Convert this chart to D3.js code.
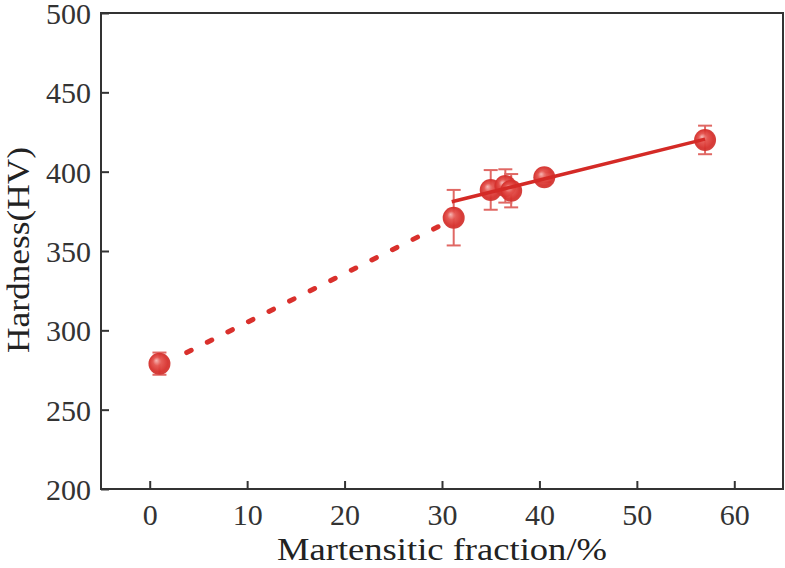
<!DOCTYPE html>
<html>
<head>
    <script src="https://cdn.jsdelivr.net/npm/d3@7"></script>
</head>

<style>
    body { margin: 0; background: white; }
    .axis path, .axis line { stroke: #333; stroke-width: 2; }
    .axis text {
        fill: #333;
        font-family: "Liberation Serif", "Times New Roman", serif;
        font-size: 30px;
    }
    .label {
        fill: #222;
        font-family: "Liberation Serif", "Times New Roman", serif;
        font-size: 32px;
    }
</style>

<body>
<div id="chart"></div>

<script>

    // measured points: martensite fraction (%), hardness (HV), error (HV)
    var fraction = [1, 31.2, 35, 36.5, 37.1, 40.5, 57];
    var hardness = [279, 371, 388.5, 391, 388, 396.5, 420];
    var errors   = [7, 17.5, 12.5, 10.5, 10.5, 3, 9];

    // fitted lines
    var solidFitX = [31, 57];
    var solidFitY = [381, 420.5];
    var dottedFitX = [3.8, 30.5];
    var dottedFitY = [286, 368];

    var xTicks = [0, 10, 20, 30, 40, 50, 60];
    var yTicks = [200, 250, 300, 350, 400, 450, 500];

    var totalWidth = 785, totalHeight = 568;
    var padding = { top: 13, right: 2, bottom: 79, left: 101 };
    var width = totalWidth - padding.left - padding.right;
    var height = totalHeight - padding.top - padding.bottom;

    var xScale = d3.scaleLinear()
        .domain([-5, 65])
        .range([0, width]);

    var yScale = d3.scaleLinear()
        .domain([200, 500])
        .range([height, 0]);

    var svg = d3.select('#chart').append('svg')
        .attr('width', totalWidth)
        .attr('height', totalHeight);

    var defs = svg.append('defs');

    var ballStops = [
        { color: '#f6b3b0', offset: 0 },
        { color: '#e4524d', offset: 35 },
        { color: '#d6302c', offset: 75 },
        { color: '#cf3a36', offset: 100 }
    ];

    defs.append('radialGradient')
        .attr('id', 'ball')
        .attr('cx', '50%').attr('cy', '50%')
        .attr('fx', '35%').attr('fy', '35%')
        .attr('r', '55%')
        .selectAll('stop')
        .data(ballStops)
        .enter()
        .append('stop')
        .attr('stop-color', function(d) { return d.color; })
        .attr('offset', function(d) { return d.offset + '%'; });

    var g = svg.append('g')
        .attr('transform', 'translate(' + padding.left + ',' + padding.top + ')');

    // frame
    g.append('rect')
        .attr('width', width)
        .attr('height', height)
        .attr('fill', 'none')
        .attr('stroke', '#333')
        .attr('stroke-width', 2);

    g.append('g')
        .attr('class', 'axis')
        .attr('transform', 'translate(0,' + height + ')')
        .call(d3.axisBottom(xScale).tickValues(xTicks).tickSizeInner(-8).tickSizeOuter(0).tickPadding(15))
        .selectAll('text').attr('dy', '0.71em');

    g.append('g')
        .attr('class', 'axis')
        .call(d3.axisLeft(yScale).tickValues(yTicks).tickSizeInner(-8).tickSizeOuter(0).tickPadding(10))
        .selectAll('text').attr('dy', '0.35em');

    g.selectAll('.axis path.domain').remove();

    // dotted extrapolation
    var line = d3.line()
        .x(function(d) { return xScale(d[0]); })
        .y(function(d) { return yScale(d[1]); });

    g.append('path')
        .datum(d3.zip(dottedFitX, dottedFitY))
        .attr('d', line)
        .attr('fill', 'none')
        .attr('stroke', '#d9302c')
        .attr('stroke-width', 5)
        .attr('stroke-linecap', 'round')
        .attr('stroke-dasharray', '5 18');

    // error bars
    var points = d3.range(fraction.length).map(function(i) {
        return { x: fraction[i], y: hardness[i], e: errors[i] };
    });

    var bars = g.selectAll('g.err')
        .data(points)
        .enter()
        .append('g')
        .attr('class', 'err')
        .attr('stroke', '#e06864')
        .attr('stroke-width', 2);

    bars.append('line')
        .attr('x1', function(d) { return xScale(d.x); })
        .attr('x2', function(d) { return xScale(d.x); })
        .attr('y1', function(d) { return yScale(d.y + d.e); })
        .attr('y2', function(d) { return yScale(d.y - d.e); });

    bars.selectAll('line.cap')
        .data(function(d) { return [[d.x, d.y + d.e], [d.x, d.y - d.e]]; })
        .enter()
        .append('line')
        .attr('class', 'cap')
        .attr('x1', function(d) { return xScale(d[0]) - 7; })
        .attr('x2', function(d) { return xScale(d[0]) + 7; })
        .attr('y1', function(d) { return yScale(d[1]); })
        .attr('y2', function(d) { return yScale(d[1]); });

    // balls
    g.selectAll('circle.point')
        .data(points)
        .enter()
        .append('circle')
        .attr('class', 'point')
        .attr('r', 11)
        .attr('fill', 'url(#ball)')
        .attr('fill-opacity', 0.95)
        .attr('cx', function(d) { return xScale(d.x); })
        .attr('cy', function(d) { return yScale(d.y); });

    // solid fit
    g.append('path')
        .datum(d3.zip(solidFitX, solidFitY))
        .attr('d', line)
        .attr('fill', 'none')
        .attr('stroke', '#d42a26')
        .attr('stroke-width', 3.5);

    // axis titles
    svg.append('text')
        .attr('class', 'label')
        .attr('x', padding.left + xScale(30))
        .attr('y', 560)
        .attr('text-anchor', 'middle')
        .attr('textLength', 330)
        .attr('lengthAdjust', 'spacingAndGlyphs')
        .text('Martensitic fraction/%');

    svg.append('text')
        .attr('class', 'label')
        .attr('transform', 'translate(29,250) rotate(-90)')
        .attr('text-anchor', 'middle')
        .attr('textLength', 206)
        .attr('lengthAdjust', 'spacingAndGlyphs')
        .text('Hardness(HV)');

</script>
</body>
</html>
